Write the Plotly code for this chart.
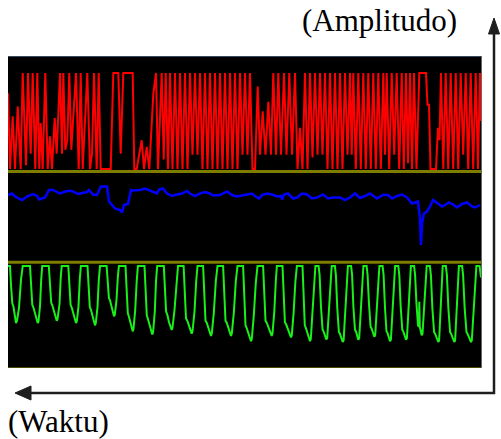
import plotly.graph_objects as go

# ---------------- data (time in samples, amplitude in arbitrary units) ----------------
red_t = [0, 2, 4.7, 7, 9.7, 12.7, 14.7, 18, 20, 22.7, 24.7, 27.3, 29.3, 31.3, 32.7, 34.7, 37.3, 39.7, 42, 44,
         46.7, 48.7, 52, 54, 55.3, 57.3, 59.3, 61.3, 63.3, 65.3, 68, 70.7, 72.7, 74.7, 79.3, 82, 84, 86, 88.7, 90.7,
         92.7, 97, 102.7, 105.3, 110.3, 112.7, 115.3, 124.7, 126.3, 128.7, 133.7, 136, 138.7, 141.3, 143.7, 145.3, 148, 150, 153.7, 155.7,
         157.7,
         160, 162, 164.5, 167, 169.5, 172, 174.5, 177, 179.5, 182, 184.5, 187, 189.5, 192, 194.5, 197, 199.5, 202, 204.5, 207,
         209.5, 212, 214.5, 217, 219.5, 222, 224.5, 227, 229.5, 232, 234.5, 237, 239.5, 242, 244.5, 247, 249.7, 252, 254.7, 257.5,
         260.3, 263, 265.3, 268, 270.3, 273, 276, 278.5, 281.3, 284, 287, 289.5, 292, 294.5, 297, 299.5, 302, 304.5, 307, 309.5,
         312, 314.5, 317, 319.5, 322, 324.5, 327, 329.5, 332, 334.5, 337, 339.5, 342, 343.7, 345.3, 347.8, 350.3, 352.8, 355.3, 357.8,
         360.3, 362.8, 365.3, 367.8, 370.3, 372.8, 375.3, 377, 378.7, 381.2, 383.7, 386.2, 388.7, 391.2, 393.7, 395.8, 398, 400, 402, 404,
         406, 408.5, 411.3, 418, 419.5, 421, 422.5, 428, 430, 431.5, 433, 435.3, 437.7, 440.2, 442.7, 445.2, 447.7, 450.2, 452.7, 455.2,
         457.7, 460.2, 462.7, 465.2, 467.7, 470, 472, 473]
red_v = [0.79, 0, 0.55, 0, 0.65, 0, 1, 0.04, 1, 0.16, 1, 0, 1, 0, 0.48, 0, 1, 0, 0.34, 0,
         0.53, 0.16, 1, 0.16, 1, 0.2, 0.3, 1, 0.2, 0.55, 1, 0, 1, 0, 1, 0, 0.16, 1, 0, 1,
         0, 0, 0, 1, 1, 0.16, 1, 1, 0, 0, 0.3, 0, 0.23, 0, 0.55, 0.78, 1, 0, 1, 0.1,
         1,
         0, 1, 0, 1, 0, 1, 0, 1, 0, 1, 0.15, 1, 0.15, 1, 0, 1, 0, 1, 0, 1,
         0, 1, 0, 1, 0, 1, 0, 1, 0, 1, 0.15, 1, 0.15, 1, 0, 0, 0.86, 0.15, 0.6, 0.15,
         0.7, 0.15, 1, 0.15, 1, 0.15, 1, 0.15, 1, 0.15, 1, 0, 0.43, 0, 1, 0, 1, 0.12, 1, 0.15,
         1, 0.15, 1, 0, 1, 0, 1, 0, 1, 0, 1, 0.15, 1, 0.15, 1, 0, 1, 0, 1, 0,
         1, 0, 1, 0, 1, 0, 1, 0.15, 1, 0, 1, 0.15, 1, 0, 1, 0, 1, 0.06, 1, 0,
         1, 0, 1, 1, 0.67, 0.67, 0, 0, 0.43, 0.3, 1, 0, 1, 0, 1, 0, 1, 0, 1, 0.15,
         1, 0, 1, 0, 1, 0, 1, 0.5]

blue_t = [0, 4, 7, 14, 19, 25, 29, 31, 37, 41, 45, 52, 59, 64, 70, 79, 81, 85, 89, 93,
          99, 101, 107, 112, 114, 116, 120, 123, 125, 132, 137, 141, 145, 149, 151, 155, 159, 164, 169, 174,
          179, 182, 187, 192, 197, 202, 205, 212, 219, 224, 229, 235, 244, 247, 251, 254, 259, 264, 269, 273,
          274, 276, 280, 285, 289, 294, 299, 304, 309, 315, 320, 325, 332, 337, 342, 347, 352, 357, 362, 369,
          375, 380, 384, 389, 394, 399, 404, 407, 410, 412, 413, 414, 416, 419, 422, 425, 429, 434, 437, 441,
          445, 449, 454, 459, 464, 467, 472]
blue_v = [0.00, 0.03, -0.03, -0.10, -0.03, 0.02, -0.02, -0.09, -0.05, 0.10, 0.10, 0.03, 0.08, 0.08, 0.02, 0.06, 0.10, 0.01, 0.00, 0.17,
          0.17, -0.13, -0.27, -0.30, -0.35, -0.20, -0.18, 0.10, 0.09, 0.10, 0.13, 0.10, 0.07, 0.03, 0.11, 0.13, 0.03, -0.02, 0.01, 0.03,
          0.08, 0.03, -0.02, 0.03, 0.06, 0.03, -0.01, 0.00, 0.07, 0.00, -0.03, 0.00, 0.03, -0.02, -0.07, 0.00, 0.03, 0.01, -0.03, -0.02,
          -0.09, 0.01, 0.03, -0.07, -0.05, 0.03, 0.01, -0.07, -0.05, 0.01, -0.07, -0.05, -0.05, -0.10, -0.05, 0.03, -0.06, -0.02, 0.03, -0.07,
          0.00, 0.00, -0.07, -0.02, 0.01, -0.05, -0.17, -0.15, -0.13, -0.47, -1.00, -0.57, -0.37, -0.33, -0.23, -0.10, -0.15, -0.23, -0.20, -0.15,
          -0.19, -0.25, -0.18, -0.15, -0.23, -0.25, -0.20]

green_t = [0, 2, 3, 4.3, 5.5, 6.7, 8, 9, 11, 13, 14.7,
           22, 23.2, 24.3, 25.5, 27.2, 29.7, 30.5, 32, 33.2, 34.2,
           40.8, 42, 43.2, 44.4, 46, 48.7, 49.5, 51.5, 52.7, 53.7,
           60.3, 61.5, 62.6, 63.8, 65.5, 68, 68.8, 70.5, 71.8, 72.9,
           79.5, 80.7, 81.8, 83, 84.7, 87, 87.8, 89.5, 90.8, 92,
           98.6, 99.8, 100.9, 102, 103.6, 106, 106.8, 108.5, 109.8, 110.9,
           117.5, 118.7, 119.8, 121, 122.7, 124.7, 125.5, 127.2, 128.7, 129.9,
           136.5, 137.7, 138.8, 140, 141.8, 144.3, 145.1, 146.8, 148, 149.2,
           155.8, 157, 158.1, 159.3, 161, 163.7, 164.5, 166.5, 168.5, 170,
           175.6, 176.8, 178, 179.3, 181.2, 183.7, 184.5, 186.5, 188.2, 189.5,
           195.1, 196.3, 197.5, 198.8, 200.7, 203, 203.8, 205.8, 207.8, 209.5,
           215.1, 216.3, 217.5, 218.8, 220.7, 223, 223.8, 225.8, 227.8, 229.5,
           235.1, 236.3, 237.5, 238.8, 240.7, 243, 243.8, 245.8, 247.8, 249.5,
           255.1, 256.3, 257.5, 258.8, 261, 263.7, 264.5, 266.3, 267.8, 268.9,
           274.5, 275.7, 276.9, 278.2, 280.4, 283, 283.8, 285.6, 287.4, 288.9,
           294.5, 295.7, 296.8, 298, 299.8, 302, 302.8, 304.5, 306, 307.4,
           310.6, 311.6, 313, 314.6, 315.6, 317, 318.3, 319.2, 320.6, 322.4, 323.7,
           326.9, 327.9, 329.3, 330.9, 331.9, 333.3, 334.7, 335.6, 336.9, 338.6, 339.9,
           343.1, 344.1, 345.4, 347, 348, 349.2, 350.3, 351.2, 352.6, 354.3, 355.4,
           358.6, 359.6, 361, 362.6, 363.6, 365, 366.3, 367.2, 368.6, 370.2, 371.4,
           374.6, 375.6, 377, 378.5, 379.5, 380.8, 382, 382.9, 384.3, 385.9, 387.1,
           390.3, 391.3, 392.7, 394.3, 395.3, 396.7, 398, 398.9, 400.2, 401.8, 402.9,
           406.1, 407.1, 408.5, 410, 411, 411.3, 411.8, 412.6, 413.7, 414.5, 415.9, 417.6, 418.7,
           421.9, 422.9, 424.4, 426.1, 427.1, 428.8, 430.3, 431.1, 432.3, 433.7, 434.7,
           437.9, 438.9, 440.4, 442.1, 443.1, 444.8, 446.3, 447.1, 448.4, 449.8, 450.9,
           454.1, 455.1, 456.7, 458.5, 459.5, 461.3, 463, 463.8, 465.2, 466.9, 468.4,
           471.6, 473]
green_v = [1, 1, 0.75, 0.51, 0.46, 0.35, 0.25, 0.28, 0.45, 0.82, 1,
           1, 0.74, 0.49, 0.45, 0.36, 0.25, 0.27, 0.47, 0.82, 1,
           1, 0.75, 0.52, 0.48, 0.39, 0.28, 0.30, 0.50, 0.84, 1,
           1, 0.74, 0.49, 0.45, 0.36, 0.25, 0.27, 0.47, 0.83, 1,
           1, 0.73, 0.46, 0.42, 0.33, 0.22, 0.25, 0.46, 0.82, 1,
           1, 0.78, 0.58, 0.55, 0.45, 0.34, 0.36, 0.55, 0.85, 1,
           1, 0.70, 0.38, 0.33, 0.24, 0.14, 0.17, 0.42, 0.80, 1,
           1, 0.70, 0.35, 0.30, 0.20, 0.10, 0.13, 0.40, 0.80, 1,
           1, 0.72, 0.40, 0.36, 0.26, 0.16, 0.19, 0.42, 0.80, 1,
           1, 0.70, 0.31, 0.28, 0.20, 0.11, 0.14, 0.40, 0.80, 1,
           1, 0.68, 0.28, 0.25, 0.17, 0.08, 0.11, 0.38, 0.80, 1,
           1, 0.68, 0.28, 0.25, 0.17, 0.08, 0.11, 0.38, 0.80, 1,
           1, 0.66, 0.22, 0.18, 0.10, 0.01, 0.04, 0.35, 0.78, 1,
           1, 0.68, 0.28, 0.25, 0.17, 0.08, 0.11, 0.40, 0.80, 1,
           1, 0.67, 0.26, 0.23, 0.15, 0.06, 0.09, 0.38, 0.80, 1,
           1, 0.66, 0.22, 0.18, 0.10, 0.01, 0.04, 0.36, 0.78, 1,
           1, 0.88, 0.46, 0.16, 0.14, 0.08, 0.035, 0.05, 0.36, 0.79, 1,
           1, 0.88, 0.44, 0.13, 0.11, 0.05, 0.00, 0.02, 0.34, 0.78, 1,
           1, 0.88, 0.46, 0.16, 0.14, 0.07, 0.03, 0.05, 0.36, 0.79, 1,
           1, 0.88, 0.50, 0.20, 0.18, 0.11, 0.07, 0.09, 0.40, 0.80, 1,
           1, 0.88, 0.45, 0.14, 0.12, 0.05, 0.01, 0.03, 0.35, 0.78, 1,
           1, 0.88, 0.46, 0.16, 0.14, 0.07, 0.03, 0.05, 0.36, 0.79, 1,
           1, 0.88, 0.50, 0.22, 0.20, 0.53, 0.20, 0.13, 0.09, 0.11, 0.40, 0.80, 1,
           1, 0.88, 0.44, 0.13, 0.11, 0.05, 0.00, 0.02, 0.34, 0.78, 1,
           1, 0.88, 0.44, 0.13, 0.11, 0.05, 0.00, 0.02, 0.34, 0.78, 1,
           1, 0.88, 0.44, 0.13, 0.11, 0.05, 0.00, 0.02, 0.34, 0.78, 1,
           1, 0.85]

label_amplitude = "(Amplitudo)"
label_time = "(Waktu)"

# ---------------- figure ----------------
fig = go.Figure()
fig.add_trace(go.Scatter(x=red_t, y=red_v, mode="lines", yaxis="y",
                         line=dict(color="#ff0000", width=2), hoverinfo="skip"))
fig.add_trace(go.Scatter(x=blue_t, y=blue_v, mode="lines", yaxis="y2",
                         line=dict(color="#0000ff", width=2.5), hoverinfo="skip"))
fig.add_trace(go.Scatter(x=green_t, y=green_v, mode="lines", yaxis="y3",
                         line=dict(color="#19f019", width=2), hoverinfo="skip"))

W, H = 501, 439
L, R, T, B = 8, 20, 56, 71
pw, ph = W - L - R, H - T - B


def px(x):
    return (x - L) / pw


def py(y):
    return (H - B - y) / ph


y_red_lo, y_blue_lo = py(172), py(262)

fig.update_layout(
    width=W, height=H,
    margin=dict(l=L, r=R, t=T, b=B, pad=0),
    paper_bgcolor="white", plot_bgcolor="black",
    showlegend=False,
    xaxis=dict(range=[0, 473], visible=False, showgrid=False, zeroline=False),
    yaxis=dict(domain=[y_red_lo, 1], range=[-0.031, 1.177], visible=False, showgrid=False, zeroline=False),
    yaxis2=dict(domain=[y_blue_lo, y_red_lo], range=[-1.34, 0.46], visible=False, showgrid=False, zeroline=False),
    yaxis3=dict(domain=[0, y_blue_lo], range=[-0.342, 1.053], visible=False, showgrid=False, zeroline=False),
)

shapes = []
# olive separator lines
for yy in (171.5, 262.3):
    shapes.append(dict(type="line", xref="paper", yref="paper", x0=0, x1=1, y0=py(yy), y1=py(yy),
                       line=dict(color="#7d7d00", width=3), layer="above"))
shapes.append(dict(type="line", xref="paper", yref="paper", x0=0, x1=1, y0=py(367.5), y1=py(367.5),
                   line=dict(color="#4a4a00", width=1), layer="above"))
# frame edges
shapes.append(dict(type="line", xref="paper", yref="paper", x0=0, x1=1, y0=py(56.5), y1=py(56.5),
                   line=dict(color="#34495e", width=1), layer="above"))
shapes.append(dict(type="line", xref="paper", yref="paper", x0=px(481.5), x1=px(481.5), y0=py(368), y1=py(56),
                   line=dict(color="#666666", width=1), layer="above"))
# axis arrows
ax_col = "#1e1e1e"
shapes.append(dict(type="line", xref="paper", yref="paper", x0=px(494), x1=px(494), y0=py(394), y1=py(30),
                   line=dict(color=ax_col, width=2.5)))
shapes.append(dict(type="line", xref="paper", yref="paper", x0=px(28), x1=px(495), y0=py(393), y1=py(393),
                   line=dict(color=ax_col, width=2.5)))
shapes.append(dict(type="path", xref="paper", yref="paper",
                   path=f"M {px(494)},{py(18)} L {px(488.5)},{py(34)} L {px(499.5)},{py(34)} Z",
                   fillcolor=ax_col, line=dict(color=ax_col, width=1)))
shapes.append(dict(type="path", xref="paper", yref="paper",
                   path=f"M {px(15)},{py(393)} L {px(31)},{py(386)} L {px(31)},{py(400)} Z",
                   fillcolor=ax_col, line=dict(color=ax_col, width=1)))
fig.update_layout(shapes=shapes)

fig.add_annotation(text=label_amplitude, xref="paper", yref="paper", x=px(379), y=py(21),
                   xanchor="center", yanchor="middle", showarrow=False,
                   font=dict(family="Liberation Serif, Times New Roman, serif", size=31, color="black"))
fig.add_annotation(text=label_time, xref="paper", yref="paper", x=px(58), y=py(421),
                   xanchor="center", yanchor="middle", showarrow=False,
                   font=dict(family="Liberation Serif, Times New Roman, serif", size=31, color="black"))

fig.write_html("out.html", config={"displayModeBar": False},
               post_script="document.body.style.margin='0px';document.body.style.overflow='hidden';")
